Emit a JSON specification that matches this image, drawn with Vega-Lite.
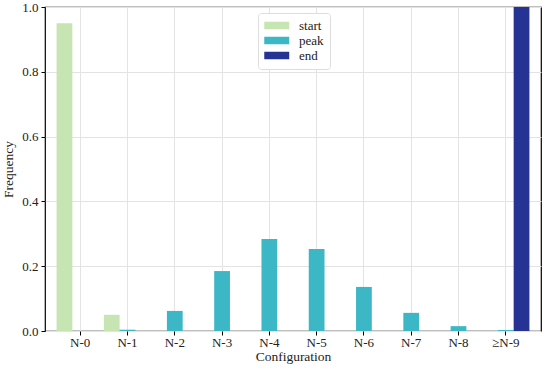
{
  "$schema": "https://vega.github.io/schema/vega-lite/v6.json",
  "width": 496,
  "height": 324,
  "autosize": {"type": "none"},
  "padding": {"left": 45, "top": 7, "right": 9, "bottom": 43},
  "background": "white",
  "config": {
    "font": "Liberation Serif",
    "view": {"stroke": "black", "strokeWidth": 1.2},
    "axis": {"labelFont": "Liberation Serif", "titleFont": "Liberation Serif", "labelFontSize": 13, "titleFontSize": 13.5, "titleFontWeight": "normal", "labelColor": "#222", "titleColor": "#222", "domainColor": "black", "tickColor": "black", "gridColor": "#e3e3e3", "gridWidth": 1}
  },
  "data": {
    "values": [
      {"cfg": "N-0", "series": "start", "freq": 0.95},
      {"cfg": "N-1", "series": "start", "freq": 0.05},
      {"cfg": "N-1", "series": "peak", "freq": 0.004},
      {"cfg": "N-2", "series": "peak", "freq": 0.062},
      {"cfg": "N-3", "series": "peak", "freq": 0.185},
      {"cfg": "N-4", "series": "peak", "freq": 0.284},
      {"cfg": "N-5", "series": "peak", "freq": 0.253},
      {"cfg": "N-6", "series": "peak", "freq": 0.136},
      {"cfg": "N-7", "series": "peak", "freq": 0.056},
      {"cfg": "N-8", "series": "peak", "freq": 0.015},
      {"cfg": "≥N-9", "series": "peak", "freq": 0.003},
      {"cfg": "≥N-9", "series": "end", "freq": 1.0}
    ]
  },
  "mark": {"type": "bar"},
  "encoding": {
    "x": {
      "field": "cfg", "type": "nominal", "sort": ["N-0","N-1","N-2","N-3","N-4","N-5","N-6","N-7","N-8","≥N-9"],
      "scale": {"paddingInner": 0, "paddingOuter": 0.245},
      "axis": {"title": "Configuration", "labelAngle": 0, "grid": true, "tickSize": 4, "labelPadding": 1, "titlePadding": 0, "domain": false}
    },
    "xOffset": {"field": "series", "type": "nominal", "sort": ["start","peak","end"], "scale": {"paddingInner": 0, "paddingOuter": 0}},
    "y": {
      "field": "freq", "type": "quantitative",
      "scale": {"domain": [0, 1], "nice": false},
      "axis": {"title": "Frequency", "values": [0, 0.2, 0.4, 0.6, 0.8, 1.0], "format": ".1f", "tickSize": 4, "labelPadding": 3, "titlePadding": 6, "domain": false}
    },
    "color": {
      "field": "series", "type": "nominal",
      "scale": {"domain": ["start","peak","end"], "range": ["#c7e4b3", "#3cb7c5", "#253494"]},
      "legend": {"title": null, "orient": "none", "legendX": 213, "legendY": 6, "symbolType": "M-1,-0.6H3V0.6H-1Z", "symbolSize": 156, "symbolStrokeWidth": 0, "labelFontSize": 13, "labelFont": "Liberation Serif", "labelColor": "#222", "rowPadding": 1, "padding": 6, "strokeColor": "#dddddd", "cornerRadius": 3, "fillColor": "white", "labelOffset": 22}
    }
  }
}
